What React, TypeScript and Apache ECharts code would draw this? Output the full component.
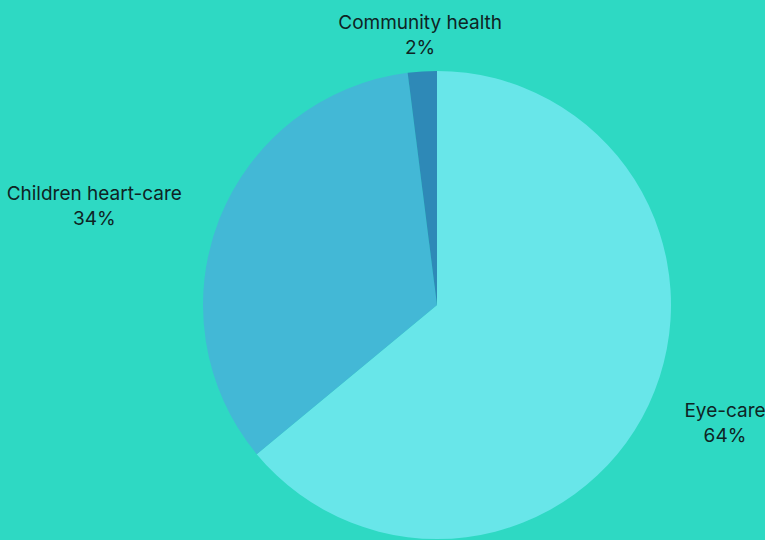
import React, { useEffect, useRef } from "react";
import * as echarts from "echarts";

const categories = ["Eye-care", "Children heart-care", "Community health"];
const values = [64, 34, 2];
const colors = ["#68E6E9", "#43B8D6", "#2E89B7"];

export default function App() {
  const ref = useRef<HTMLDivElement>(null);
  useEffect(() => {
    if (!ref.current) return;
    const chart = echarts.init(ref.current, null, { renderer: "svg" });
    chart.setOption({
      animation: false,
      backgroundColor: "#2ED9C3",
      series: [
        {
          type: "pie",
          center: [437, 305],
          radius: 234,
          startAngle: 90,
          clockwise: true,
          avoidLabelOverlap: false,
          data: categories.map((name, i) => ({
            name,
            value: values[i],
            itemStyle: { color: colors[i] },
          })),
          label: {
            show: true,
            position: "outside",
            formatter: "{b}\n{d}%",
            fontFamily: "Inter",
            fontSize: 19,
            lineHeight: 25,
            color: "#0E2424",
          },
          labelLine: { show: false, length: 35, length2: 0 },
          labelLayout: (params: any) => {
            const w = params.labelRect.width;
            if (params.dataIndex === 2) return { align: "center", dx: 5, dy: -2 };
            if (params.dataIndex === 1) return { align: "center", dx: -w / 2 };
            return { align: "center", dx: w / 2 - 1, dy: 3 };
          },
          emphasis: { disabled: true },
        },
      ],
    });
    return () => chart.dispose();
  }, []);
  return (
    <div
      ref={ref}
      style={{ position: "fixed", left: 0, top: 0, width: 765, height: 540 }}
    />
  );
}
